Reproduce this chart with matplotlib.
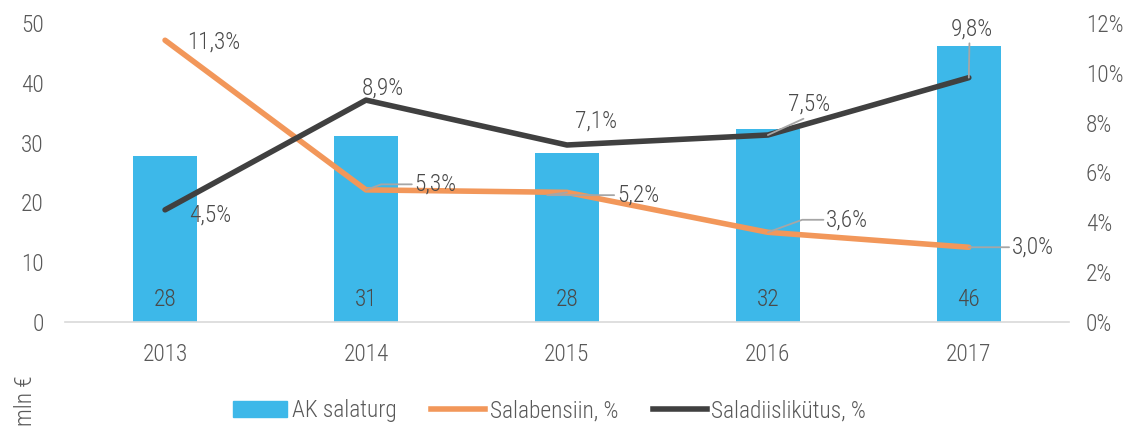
import numpy as np
import matplotlib
matplotlib.use('Agg')
import matplotlib.pyplot as plt
from matplotlib.patches import Patch
from matplotlib.lines import Line2D
from matplotlib import font_manager

# data
years = ['2013', '2014', '2015', '2016', '2017']
salaturg = [27.7, 31.1, 28.3, 32.2, 46.2]
salaturg_labels = ['28', '31', '28', '32', '46']
bensiin = [11.3, 5.3, 5.2, 3.6, 3.0]
diislikutus = [4.5, 8.9, 7.1, 7.5, 9.8]

blue = '#3DB8E9'
orange = '#F2975A'
dark = '#404040'
grey = '#595959'
lblc = '#4A4A4A'
lead = '#A6A6A6'

names = {f.name for f in font_manager.fontManager.ttflist}
fams = [f for f in ['Roboto Condensed', 'Liberation Sans Narrow', 'Roboto'] if f in names]
plt.rcParams['font.family'] = fams + ['DejaVu Sans']
plt.rcParams['font.weight'] = 'light'
narrow = fams[0] != 'Roboto'
fs = 16.8 if narrow else 14

fig = plt.figure(figsize=(11.43, 4.30), dpi=100)
ax = fig.add_axes([0.0565, 0.251, 0.879, 0.696])
ax2 = ax.twinx()

x = np.arange(len(years))
ax.bar(x, salaturg, width=0.32, color=blue, zorder=1)
for xi, lab in zip(x, salaturg_labels):
    ax.text(xi, 3.8, lab, ha='center', va='center', color=lblc, fontsize=fs)

ax.set_xlim(-0.5, 4.5)
ax.set_ylim(0, 50)
ax.set_yticks(range(0, 51, 10))
ax.set_xticks(x)
ax.set_xticklabels(years)
ax2.set_ylim(0, 12)
ax2.set_yticks(range(0, 13, 2))
ax2.set_yticklabels(['%d%%' % v for v in range(0, 13, 2)])

for a in (ax, ax2):
    for s in a.spines.values():
        s.set_visible(False)
    a.tick_params(length=0, labelsize=fs, colors=grey)
ax.spines['bottom'].set_visible(True)
ax.spines['bottom'].set_color('#D9D9D9')
ax.spines['bottom'].set_linewidth(1.2)
ax.tick_params(axis='x', pad=15)
ax.tick_params(axis='y', pad=15)
ax2.tick_params(axis='y', pad=12)

ax2.plot(x, bensiin, color=orange, lw=4, solid_capstyle='round', solid_joinstyle='round')
ax2.plot(x, diislikutus, color=dark, lw=4, solid_capstyle='round', solid_joinstyle='round')

def fmt(v):
    return ('%.1f%%' % v).replace('.', ',')

def label(xi, v, dx, dy, ha, leader=None):
    arrow = None
    if leader is not None:
        relpos, conn = leader
        arrow = dict(arrowstyle='-', color=lead, lw=1.3, shrinkA=0, shrinkB=0,
                     relpos=relpos, connectionstyle=conn)
    ax2.annotate(fmt(v), (xi, v), xytext=(dx, dy), textcoords='offset points',
                 ha=ha, va='center', color=lblc, fontsize=fs, arrowprops=arrow)

elbow = 'angle,angleA=0,angleB=20,rad=0'
straight = 'arc3,rad=0'

# Salabensiin labels
label(x[0], bensiin[0], 16, -1, 'left')
label(x[1], bensiin[1], 35, 4, 'left', ((0, 0.5), elbow))
label(x[2], bensiin[2], 36, -2, 'left', ((0, 0.5), 'angle,angleA=0,angleB=8,rad=0'))
label(x[3], bensiin[3], 42, 9, 'left', ((0, 0.5), elbow))
label(x[4], bensiin[4], 31, 0, 'left', ((0, 0.5), straight))

# Saladiislikütus labels
label(x[0], diislikutus[0], 17, -4, 'left')
label(x[1], diislikutus[1], 12, 9, 'center')
label(x[2], diislikutus[2], 21, 17, 'center')
label(x[3], diislikutus[3], 30, 22, 'center', ((0.5, 0), straight))
label(x[4], diislikutus[4], 2, 35, 'center', ((0.45, 0), straight))

fig.text(0.022, 0.01, 'mln €', rotation=90, ha='center', va='bottom', color=grey, fontsize=fs)

handles = [Patch(color=blue), Line2D([], [], color=orange, lw=4), Line2D([], [], color=dark, lw=4)]
fig.legend(handles, ['AK salaturg', 'Salabensiin, %', 'Saladiislikütus, %'],
           loc='center', bbox_to_anchor=(0.481, 0.045), ncol=3, frameon=False,
           fontsize=fs, labelcolor=grey, handlelength=2.3, handletextpad=0.2, columnspacing=1.5)

fig.savefig('out.png', dpi=100)
